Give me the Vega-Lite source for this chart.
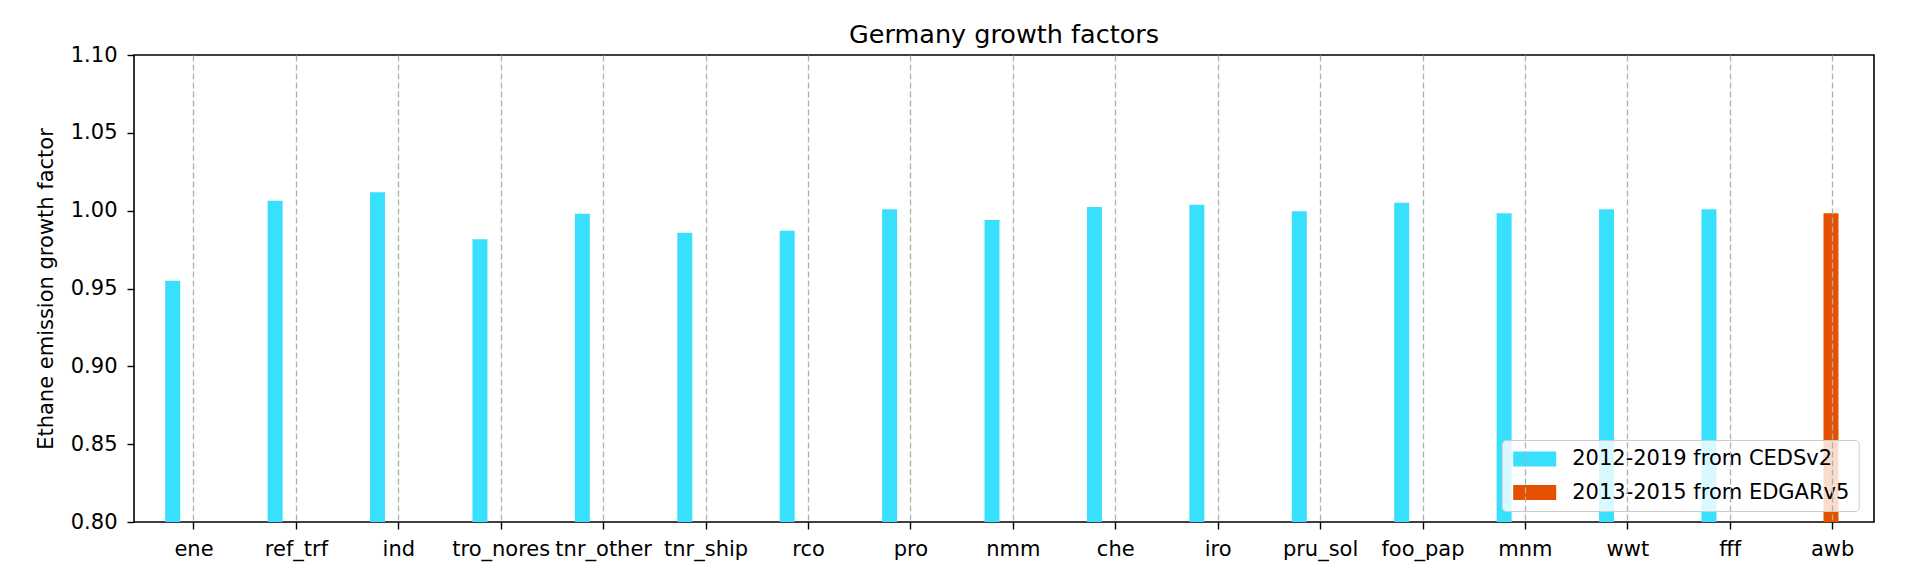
{
  "$schema": "https://vega.github.io/schema/vega-lite/v6.json",
  "autosize": {"type": "none"},
  "width": 1740,
  "height": 467,
  "padding": {"left": 134, "top": 55, "right": 35, "bottom": 61},
  "background": "white",
  "view": {"stroke": "#000000", "strokeWidth": 1.6},
  "config": {
    "font": "DejaVu Sans",
    "axis": {"labelFont": "DejaVu Sans", "titleFont": "DejaVu Sans", "labelColor": "#000", "titleColor": "#000"},
    "legend": {"labelFont": "DejaVu Sans"}
  },
  "title": {
    "text": "Germany growth factors",
    "fontSize": 25.5,
    "fontWeight": "normal",
    "color": "#000",
    "anchor": "middle",
    "frame": "group",
    "baseline": "alphabetic",
    "offset": -24
  },
  "data": {
    "values": [
      {"sector": "ene", "source": "2012-2019 from CEDSv2", "value": 0.955},
      {"sector": "ref_trf", "source": "2012-2019 from CEDSv2", "value": 1.0064},
      {"sector": "ind", "source": "2012-2019 from CEDSv2", "value": 1.0118},
      {"sector": "tro_nores", "source": "2012-2019 from CEDSv2", "value": 0.9816},
      {"sector": "tnr_other", "source": "2012-2019 from CEDSv2", "value": 0.998},
      {"sector": "tnr_ship", "source": "2012-2019 from CEDSv2", "value": 0.9858},
      {"sector": "rco", "source": "2012-2019 from CEDSv2", "value": 0.9871},
      {"sector": "pro", "source": "2012-2019 from CEDSv2", "value": 1.0009},
      {"sector": "nmm", "source": "2012-2019 from CEDSv2", "value": 0.994},
      {"sector": "che", "source": "2012-2019 from CEDSv2", "value": 1.0024},
      {"sector": "iro", "source": "2012-2019 from CEDSv2", "value": 1.0038},
      {"sector": "pru_sol", "source": "2012-2019 from CEDSv2", "value": 0.9996},
      {"sector": "foo_pap", "source": "2012-2019 from CEDSv2", "value": 1.0051},
      {"sector": "mnm", "source": "2012-2019 from CEDSv2", "value": 0.9983},
      {"sector": "wwt", "source": "2012-2019 from CEDSv2", "value": 1.0009},
      {"sector": "fff", "source": "2012-2019 from CEDSv2", "value": 1.0009},
      {"sector": "awb", "source": "2013-2015 from EDGARv5", "value": 0.9983}
    ]
  },
  "mark": {"type": "bar", "clip": true},
  "encoding": {
    "x": {
      "field": "sector",
      "type": "nominal",
      "sort": null,
      "scale": {"type": "band", "paddingInner": 0, "paddingOuter": 0, "range": [8.79, 1749.9]},
      "axis": {
        "title": null,
        "labelAngle": 0,
        "labelFontSize": 21,
        "labelPadding": 9,
        "tickSize": 7,
        "tickWidth": 1.4,
        "tickColor": "#000",
        "bandPosition": 0.5,
        "domain": false,
        "grid": true,
        "gridColor": "#b0b0b0",
        "gridDash": [6, 3],
        "gridWidth": 1.3,
        "zindex": 1
      }
    },
    "xOffset": {
      "field": "source",
      "type": "nominal",
      "scale": {"type": "band", "domain": ["2012-2019 from CEDSv2", "2013-2015 from EDGARv5"], "paddingInner": 0.235, "paddingOuter": 0, "range": [22.4, 57.0]}
    },
    "y": {
      "field": "value",
      "type": "quantitative",
      "stack": null,
      "scale": {"domain": [0.8, 1.1], "zero": false, "nice": false},
      "axis": {
        "title": "Ethane emission growth factor",
        "titleFontSize": 21,
        "titleFontWeight": "normal",
        "titlePadding": 14,
        "values": [0.8, 0.85, 0.9, 0.95, 1.0, 1.05, 1.1],
        "format": ".2f",
        "labelFontSize": 21,
        "labelPadding": 10,
        "tickSize": 7,
        "tickWidth": 1.4,
        "tickColor": "#000",
        "domain": false,
        "grid": false
      }
    },
    "color": {
      "field": "source",
      "type": "nominal",
      "scale": {"domain": ["2012-2019 from CEDSv2", "2013-2015 from EDGARv5"], "range": ["#38e0fe", "#e65100"]},
      "legend": {
        "title": null,
        "orient": "none",
        "legendX": 1367.7,
        "legendY": 385,
        "labelFontSize": 21,
        "labelLimit": 500,
        "labelColor": "#000",
        "symbolType": "M-1,-1H4.733V1H-1Z",
        "symbolSize": 225,
        "symbolStrokeWidth": 0,
        "symbolOpacity": 1,
        "labelOffset": 41,
        "rowPadding": 11.5,
        "padding": 8.5,
        "fillColor": "rgba(255,255,255,0.8)",
        "strokeColor": "#cccccc",
        "cornerRadius": 4
      }
    }
  }
}
